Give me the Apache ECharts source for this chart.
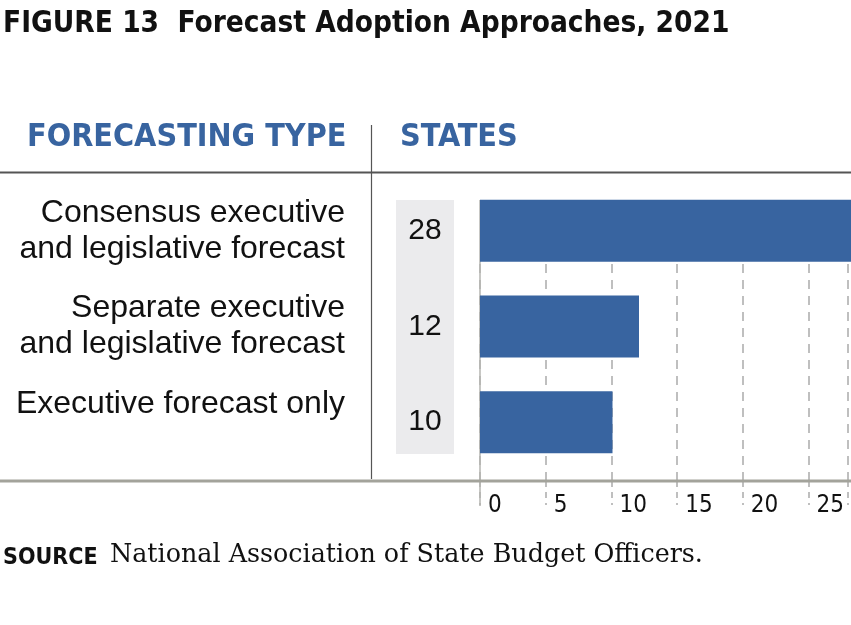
<!DOCTYPE html>
<html>
<head>
<meta charset="utf-8">
<script src="https://cdn.jsdelivr.net/npm/echarts@6/dist/echarts.min.js"></script>
<style>html,body{margin:0;padding:0;background:#fff}#c{width:851px;height:625px}</style>
</head>
<body>
<div id="c"></div>
<script>
const title = 'FIGURE 13  Forecast Adoption Approaches, 2021';
const headerType = 'FORECASTING TYPE';
const headerStates = 'STATES';
const categories = ['Consensus executive\nand legislative forecast', 'Separate executive\nand legislative forecast', 'Executive forecast only'];
const values = [28, 12, 10];
const axisMin = 0, axisMax = 28, axisInterval = 5;
const sourceLabel = 'SOURCE';
const sourceText = 'National Association of State Budget Officers.';

const BLUE = '#3864a0';
const NARROW = "'Liberation Sans Narrow','DejaVu Sans Condensed',sans-serif";
const chart = echarts.init(document.getElementById('c'), null, {renderer: 'canvas'});
chart.setOption({
  animation: false,
  backgroundColor: '#fff',
  grid: [
    {left: 480, right: 0, top: 183, height: 287},
    {left: 480, right: 0, top: 264, bottom: 144}
  ],
  xAxis: [
    {gridIndex: 0, type: 'value', min: axisMin, max: axisMax, show: false},
    {gridIndex: 1, type: 'value', min: axisMin, max: axisMax, interval: axisInterval,
      axisLine: {show: false},
      axisTick: {show: true, length: 24, lineStyle: {color: '#aaa', type: [6, 5], width: 1.5}},
      splitLine: {show: true, lineStyle: {color: '#aaa', type: [9, 7], width: 1.5}},
      axisLabel: {show: true, align: 'left', padding: [0, 0, 0, 8], margin: 13,
        fontFamily: NARROW, fontSize: 24, color: '#111',
        formatter: v => (v % axisInterval === 0 ? String(v) : '')}
    }
  ],
  yAxis: [
    {gridIndex: 0, type: 'category', data: categories, inverse: true,
      axisLine: {show: false}, axisTick: {show: false},
      axisLabel: {margin: 135, align: 'right', fontFamily: "'Liberation Sans', Arial, sans-serif", fontSize: 32, color: '#111', lineHeight: 36,
        formatter: v => (v.indexOf('\n') >= 0 ? v : v + '\n ')}},
    {gridIndex: 0, type: 'category', data: categories, inverse: true, position: 'left', offset: 0,
      axisLine: {show: false}, axisTick: {show: false},
      axisLabel: {margin: 55, align: 'center', fontFamily: "'Liberation Sans', Arial, sans-serif", fontSize: 30, color: '#111',
        padding: [4, 0, 0, 0],
        formatter: (v, i) => String(values[i])}},
    {gridIndex: 1, type: 'value', show: false}
  ],
  series: [
    {type: 'bar', xAxisIndex: 0, yAxisIndex: 0, data: values, barWidth: 62, itemStyle: {color: BLUE}, z: 5}
  ],
  graphic: [
    {type: 'text', left: 3, top: 9, style: {text: title, font: "bold 29.5px " + NARROW, fill: '#111'}},
    {type: 'text', left: 27, top: 122, style: {text: headerType, font: "bold 32px " + NARROW, fill: BLUE}},
    {type: 'text', left: 400, top: 122, style: {text: headerStates, font: "bold 32px " + NARROW, fill: BLUE}},
    {type: 'line', shape: {x1: 0, y1: 172.5, x2: 851, y2: 172.5}, style: {stroke: '#555', lineWidth: 2}, z: 10},
    {type: 'line', shape: {x1: 371.5, y1: 125, x2: 371.5, y2: 479}, style: {stroke: '#555', lineWidth: 1.2}, z: 10},
    {type: 'rect', shape: {x: 396, y: 200, width: 58, height: 254}, style: {fill: '#ebebed'}, z: 0},
    {type: 'line', shape: {x1: 480, y1: 200, x2: 480, y2: 506}, style: {stroke: '#b5b5b0', lineWidth: 1.5}, z: 4},
    {type: 'line', shape: {x1: 0, y1: 481, x2: 851, y2: 481}, style: {stroke: '#a3a39b', lineWidth: 3}, z: 10},
    {type: 'text', left: 3, top: 547, style: {text: sourceLabel, font: "bold 23px " + NARROW, fill: '#111'}},
    {type: 'text', left: 110, top: 543, style: {text: sourceText, font: "25.4px 'DejaVu Serif', serif", fill: '#111'}}
  ]
});
</script>
</body>
</html>
